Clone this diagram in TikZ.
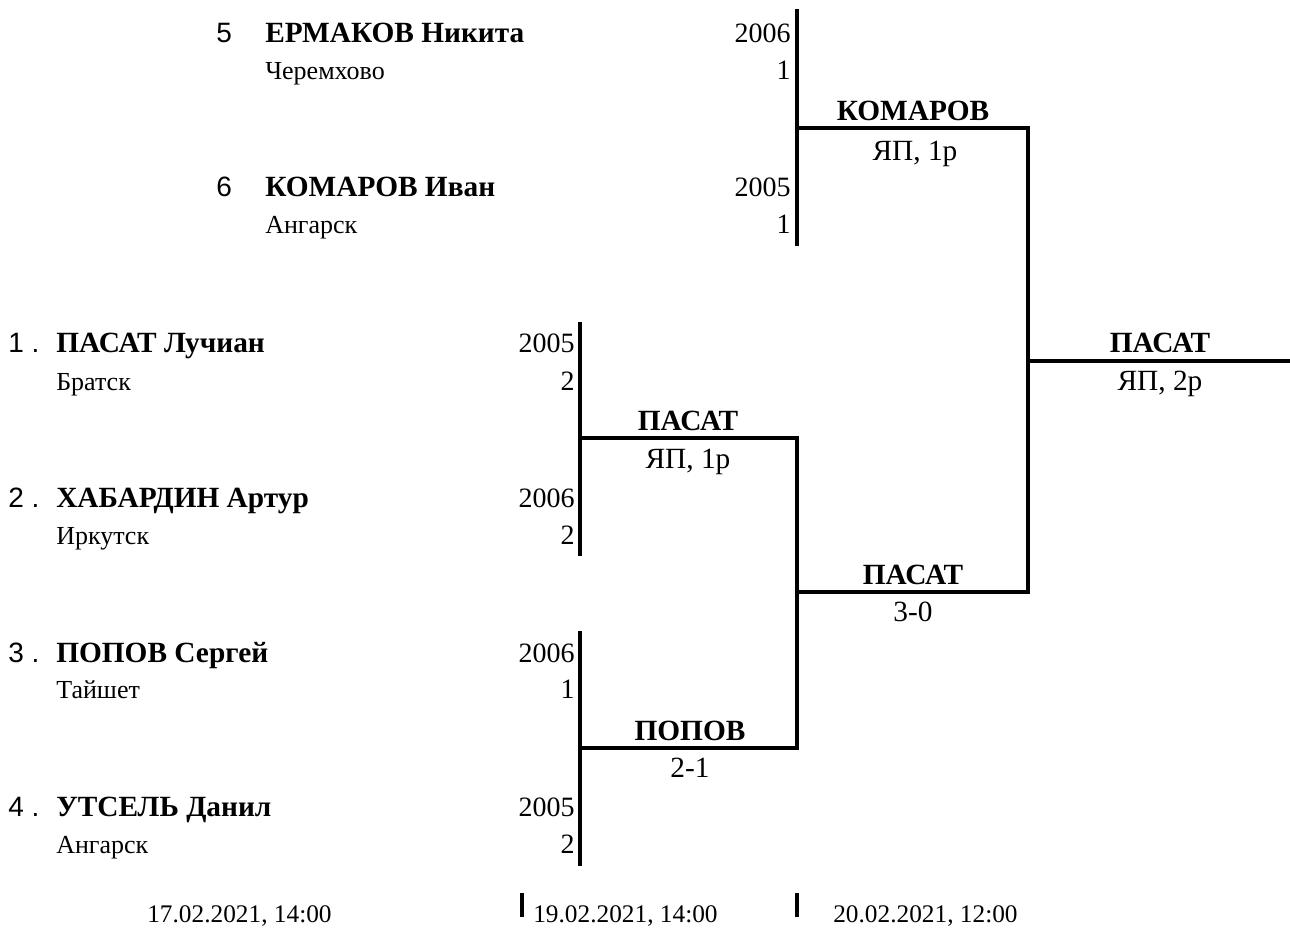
\documentclass[tikz,border=0pt]{standalone}
\usepackage{fontspec}
\setmainfont{Liberation Serif}
\newfontfamily\seedfont{Liberation Sans}
\begin{document}
\begin{tikzpicture}[x=0.75pt,y=-0.75pt,
  bline/.style={line width=2.3pt,line cap=rect},
  pname/.style={anchor=base west,inner sep=0pt,font=\fontsize{22}{25}\selectfont\bfseries},
  pseed/.style={anchor=base west,inner sep=0pt,font=\fontsize{21}{24}\seedfont},
  pcity/.style={anchor=base west,inner sep=0pt,font=\fontsize{19.5}{22}\selectfont},
  pyear/.style={anchor=base east,inner sep=0pt,font=\fontsize{21}{24}\selectfont},
  wname/.style={anchor=base,inner sep=0pt,font=\fontsize{22}{25}\selectfont\bfseries},
  wres/.style={anchor=base,inner sep=0pt,font=\fontsize{22}{25}\selectfont},
  wdate/.style={anchor=base west,inner sep=0pt,font=\fontsize{19}{22}\selectfont}]
\useasboundingbox (0,0) rectangle (1290,939);

% --- top match (5 vs 6)
\node[pseed] (s5) at (216,42) {5};
\node[pname] (n5) at (265,42) {ЕРМАКОВ Никита};
\node[pyear] (y5) at (791,42) {2006};
\node[pcity] (c5) at (265,79) {Черемхово};
\node[pyear] (r5) at (791,79) {1};
\node[pseed] (s6) at (216,196) {6};
\node[pname] (n6) at (265,196) {КОМАРОВ Иван};
\node[pyear] (y6) at (791,196) {2005};
\node[pcity] (c6) at (265,233) {Ангарск};
\node[pyear] (r6) at (791,233) {1};

% --- left players
\node[pseed] (s1) at (8,352) {1 .};
\node[pname] (n1) at (56,352) {ПАСАТ Лучиан};
\node[pyear] (y1) at (575,352) {2005};
\node[pcity] (c1) at (56,390) {Братск};
\node[pyear] (r1) at (575,390) {2};

\node[pseed] (s2) at (8,507) {2 .};
\node[pname] (n2) at (56,507) {ХАБАРДИН Артур};
\node[pyear] (y2) at (575,507) {2006};
\node[pcity] (c2) at (56,544) {Иркутск};
\node[pyear] (r2) at (575,544) {2};

\node[pseed] (s3) at (8,662) {3 .};
\node[pname] (n3) at (56,662) {ПОПОВ Сергей};
\node[pyear] (y3) at (575,662) {2006};
\node[pcity] (c3) at (56,698) {Тайшет};
\node[pyear] (r3) at (575,698) {1};

\node[pseed] (s4) at (8,816) {4 .};
\node[pname] (n4) at (56,816) {УТСЕЛЬ Данил};
\node[pyear] (y4) at (575,816) {2005};
\node[pcity] (c4) at (56,853) {Ангарск};
\node[pyear] (r4) at (575,853) {2};

% --- bracket coordinates
\coordinate (a1) at (797,11);   \coordinate (a2) at (797,244);
\coordinate (am) at (797,128);  \coordinate (ae) at (1028,128);
\coordinate (b1) at (580,324);  \coordinate (b2) at (580,554);
\coordinate (bm) at (580,438);  \coordinate (be) at (797,438);
\coordinate (c1a) at (580,633); \coordinate (c2a) at (580,864);
\coordinate (cm) at (580,748);  \coordinate (ce) at (797,748);
\coordinate (dm) at (797,592);  \coordinate (de) at (1028,592);
\coordinate (fm) at (1028,361); \coordinate (fe) at (1290,361);

\draw[bline] (a1) -- (a2);
\draw[bline] (am) -- (ae) -- (de);
\draw[bline] (b1) -- (b2);
\draw[bline] (bm) -- (be) -- (ce) -- (cm);
\draw[bline] (c1a) -- (c2a);
\draw[bline] (dm) -- (de);
\draw[line width=2.3pt] (fm) -- (fe);

% --- winners
\node[wname] (w1) at (913,120) {КОМАРОВ};
\node[wres]  (w1r) at (915,160) {ЯП, 1р};
\node[wname] (w2) at (688,430) {ПАСАТ};
\node[wres]  (w2r) at (688,468) {ЯП, 1р};
\node[wname] (w3) at (690,740) {ПОПОВ};
\node[wres]  (w3r) at (690,777) {2-1};
\node[wname] (w4) at (913,584) {ПАСАТ};
\node[wres]  (w4r) at (913,621) {3-0};
\node[wname] (w5) at (1160,352) {ПАСАТ};
\node[wres]  (w5r) at (1160,390) {ЯП, 2р};

% --- dates
\coordinate (t1) at (522,893); \coordinate (t2) at (522,917);
\coordinate (u1) at (797,893); \coordinate (u2) at (797,917);
\draw[line width=2.3pt] (t1) -- (t2);
\draw[line width=2.3pt] (u1) -- (u2);
\node[wdate] (d1) at (147,922) {17.02.2021, 14:00};
\node[wdate] (d2) at (533,922) {19.02.2021, 14:00};
\node[wdate] (d3) at (833,922) {20.02.2021, 12:00};
\end{tikzpicture}
\end{document}
